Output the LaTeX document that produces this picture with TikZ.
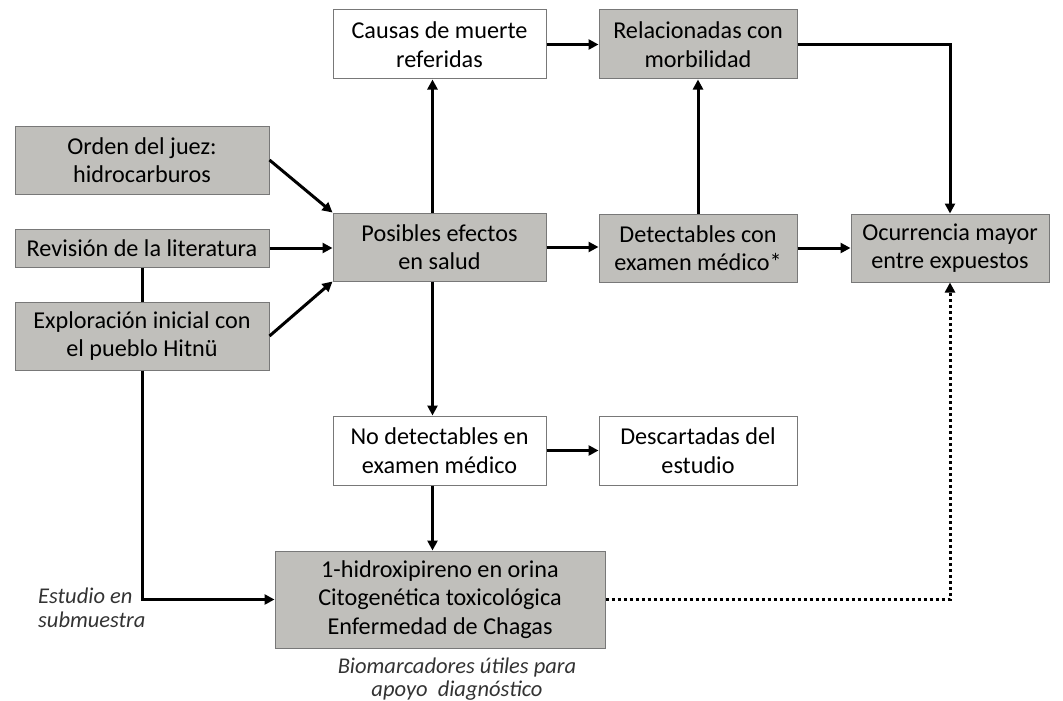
\documentclass[tikz,border=0pt]{standalone}
\usepackage{fontspec}
\setmainfont{Carlito}
\usetikzlibrary{arrows.meta}
\definecolor{boxgrey}{RGB}{192,191,187}
\definecolor{edgegrey}{RGB}{120,120,120}
\begin{document}
\begin{tikzpicture}[x=1pt, y=-1pt,
    box/.style={draw=edgegrey, line width=1pt, inner sep=0pt, align=center,
      font=\fontsize{24.2}{28.5}\selectfont},
    greybox/.style={box, fill=boxgrey},
    whitebox/.style={box, fill=white},
    arr/.style={line width=3pt, -{Triangle[length=10pt,width=10pt]}},
    dotarr/.style={arr, line cap=butt, dash pattern=on 3pt off 3pt},
    note/.style={font=\fontsize{22.5}{23.5}\selectfont\itshape, text=black!80}]
  \useasboundingbox (0,0) rectangle (1063,701);
  % upper row
  \node[whitebox, minimum width=213pt, minimum height=69pt] (causas) at (439.5,44.5) {Causas de muerte\\referidas};
  \node[greybox, minimum width=198pt, minimum height=69pt] (relac) at (698,44.5) {Relacionadas con\\morbilidad};
  % inputs
  \node[greybox, minimum width=254pt, minimum height=68pt] (orden) at (142,160) {Orden del juez:\\hidrocarburos};
  \node[greybox, minimum width=254pt, minimum height=38pt] (revis) at (142,248) {Revisión de la literatura};
  \node[greybox, minimum width=254pt, minimum height=68pt] (explo) at (142,336) {Exploración inicial con\\el pueblo Hitnü};
  % middle row
  \node[greybox, minimum width=213pt, minimum height=68pt] (posib) at (439.5,247) {Posibles efectos\\en salud};
  \node[greybox, minimum width=198pt, minimum height=68pt] (detec) at (698,248) {Detectables con\\examen médico*};
  \node[greybox, minimum width=198pt, minimum height=68pt] (ocurr) at (950,248) {Ocurrencia mayor\\entre expuestos};
  % lower rows
  \node[whitebox, minimum width=213pt, minimum height=69pt] (nodet) at (439.5,450.5) {No detectables en\\examen médico};
  \node[whitebox, minimum width=198pt, minimum height=69pt] (desc) at (698,450.5) {Descartadas del\\estudio};
  \node[greybox, minimum width=330pt, minimum height=97pt] (biom) at (440,599.5) {1-hidroxipireno en orina\\Citogenética toxicológica\\Enfermedad de Chagas};
  % notes
  \node[note, align=left, anchor=west, inner sep=0pt] (sub) at (38,608) {Estudio en\\submuestra};
  \node[note, align=center, inner sep=0pt] (util) at (457,679) {Biomarcadores útiles para\\apoyo~~diagnóstico};
  % connectors
  \draw[arr] (orden.east) -- (posib.north west);
  \draw[arr] (revis.east) -- (revis.east -| posib.west);
  \draw[arr] (explo.east) -- (posib.south west);
  \draw[line width=3pt] (revis.south) -- (explo.north);
  \draw[arr] (explo.south) |- (biom.west);
  \draw[arr] ([xshift=-7pt]posib.north) -- ([xshift=-7pt]causas.south);
  \draw[arr] ([xshift=-7pt]posib.south) -- ([xshift=-7pt]nodet.north);
  \draw[arr] ([xshift=-7pt]nodet.south) -- ([xshift=-7pt]nodet.south |- biom.north);
  \draw[arr] (causas.east) -- (relac.west);
  \draw[arr] (posib.east) -- (posib.east -| detec.west);
  \draw[arr] (detec.north) -- (relac.south);
  \draw[arr] (detec.east) -- (ocurr.west);
  \draw[arr] (nodet.east) -- (desc.west);
  \draw[arr] (relac.east) -| (ocurr.north);
  \draw[dotarr] (biom.east) -| (ocurr.south);
\end{tikzpicture}
\end{document}
